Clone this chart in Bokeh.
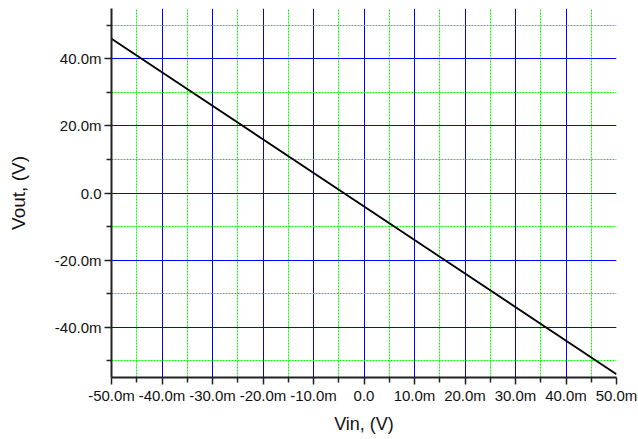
from bokeh.plotting import figure
from bokeh.models import Range1d, CustomJSTickFormatter, FixedTicker
from bokeh.embed import file_html
from bokeh.resources import INLINE

vin = [-0.050, 0.050]
vout = [0.046, -0.054]
x_ticks = [-0.05, -0.04, -0.03, -0.02, -0.01, 0.0, 0.01, 0.02, 0.03, 0.04, 0.05]
x_minor = [-0.045, -0.035, -0.025, -0.015, -0.005, 0.005, 0.015, 0.025, 0.035, 0.045]
y_ticks = [-0.04, -0.02, 0.0, 0.02, 0.04]
y_minor = [-0.05, -0.03, -0.01, 0.01, 0.03, 0.05]

p = figure(width=638, height=439, output_backend="svg", toolbar_location=None,
           x_range=Range1d(-0.05, 0.05), y_range=Range1d(-0.055, 0.055),
           min_border_left=111, min_border_right=22, min_border_top=8, min_border_bottom=62)
p.outline_line_color = None

fmt = CustomJSTickFormatter(code="""
const v = Math.round(tick*1000*10)/10;
if (Math.abs(v) < 1e-9) return '0.0';
return v.toFixed(1) + 'm';
""")

p.xaxis.ticker = FixedTicker(ticks=x_ticks, minor_ticks=x_minor)
p.yaxis.ticker = FixedTicker(ticks=y_ticks, minor_ticks=y_minor)
for ax in (p.xaxis[0], p.yaxis[0]):
    ax.formatter = fmt
    ax.axis_line_color = "#222222"
    ax.axis_line_width = 2
    ax.major_tick_line_color = "#222222"
    ax.minor_tick_line_color = "#222222"
    ax.major_tick_line_width = 1.5
    ax.minor_tick_line_width = 1.5
    ax.major_tick_out = 7
    ax.major_tick_in = 0
    ax.minor_tick_out = 5
    ax.minor_tick_in = 0
    ax.major_label_text_font = "Liberation Sans"
    ax.major_label_text_font_size = "15px"
    ax.major_label_text_color = "#111111"
    ax.axis_label_text_font = "Liberation Sans"
    ax.axis_label_text_font_style = "normal"
    ax.axis_label_text_color = "#111111"

p.xaxis.axis_label = "Vin, (V)"
p.yaxis.axis_label = "Vout, (V)"
p.xaxis.axis_label_text_font_size = "18px"
p.yaxis.axis_label_text_font_size = "19px"
p.xaxis.major_label_standoff = 2
p.yaxis.major_label_standoff = 3
p.xaxis.axis_label_standoff = 7
p.yaxis.axis_label_standoff = 23

for g in (p.xgrid[0], p.ygrid[0]):
    g.grid_line_color = "#0000ff"
    g.grid_line_width = 1
    g.grid_line_alpha = 1
    g.minor_grid_line_color = "#00ff00"
    g.minor_grid_line_dash = "2 1"
    g.minor_grid_line_width = 1

p.line(vin, vout, line_color="black", line_width=1.8)

open("out.html", "w").write(file_html(p, INLINE))
